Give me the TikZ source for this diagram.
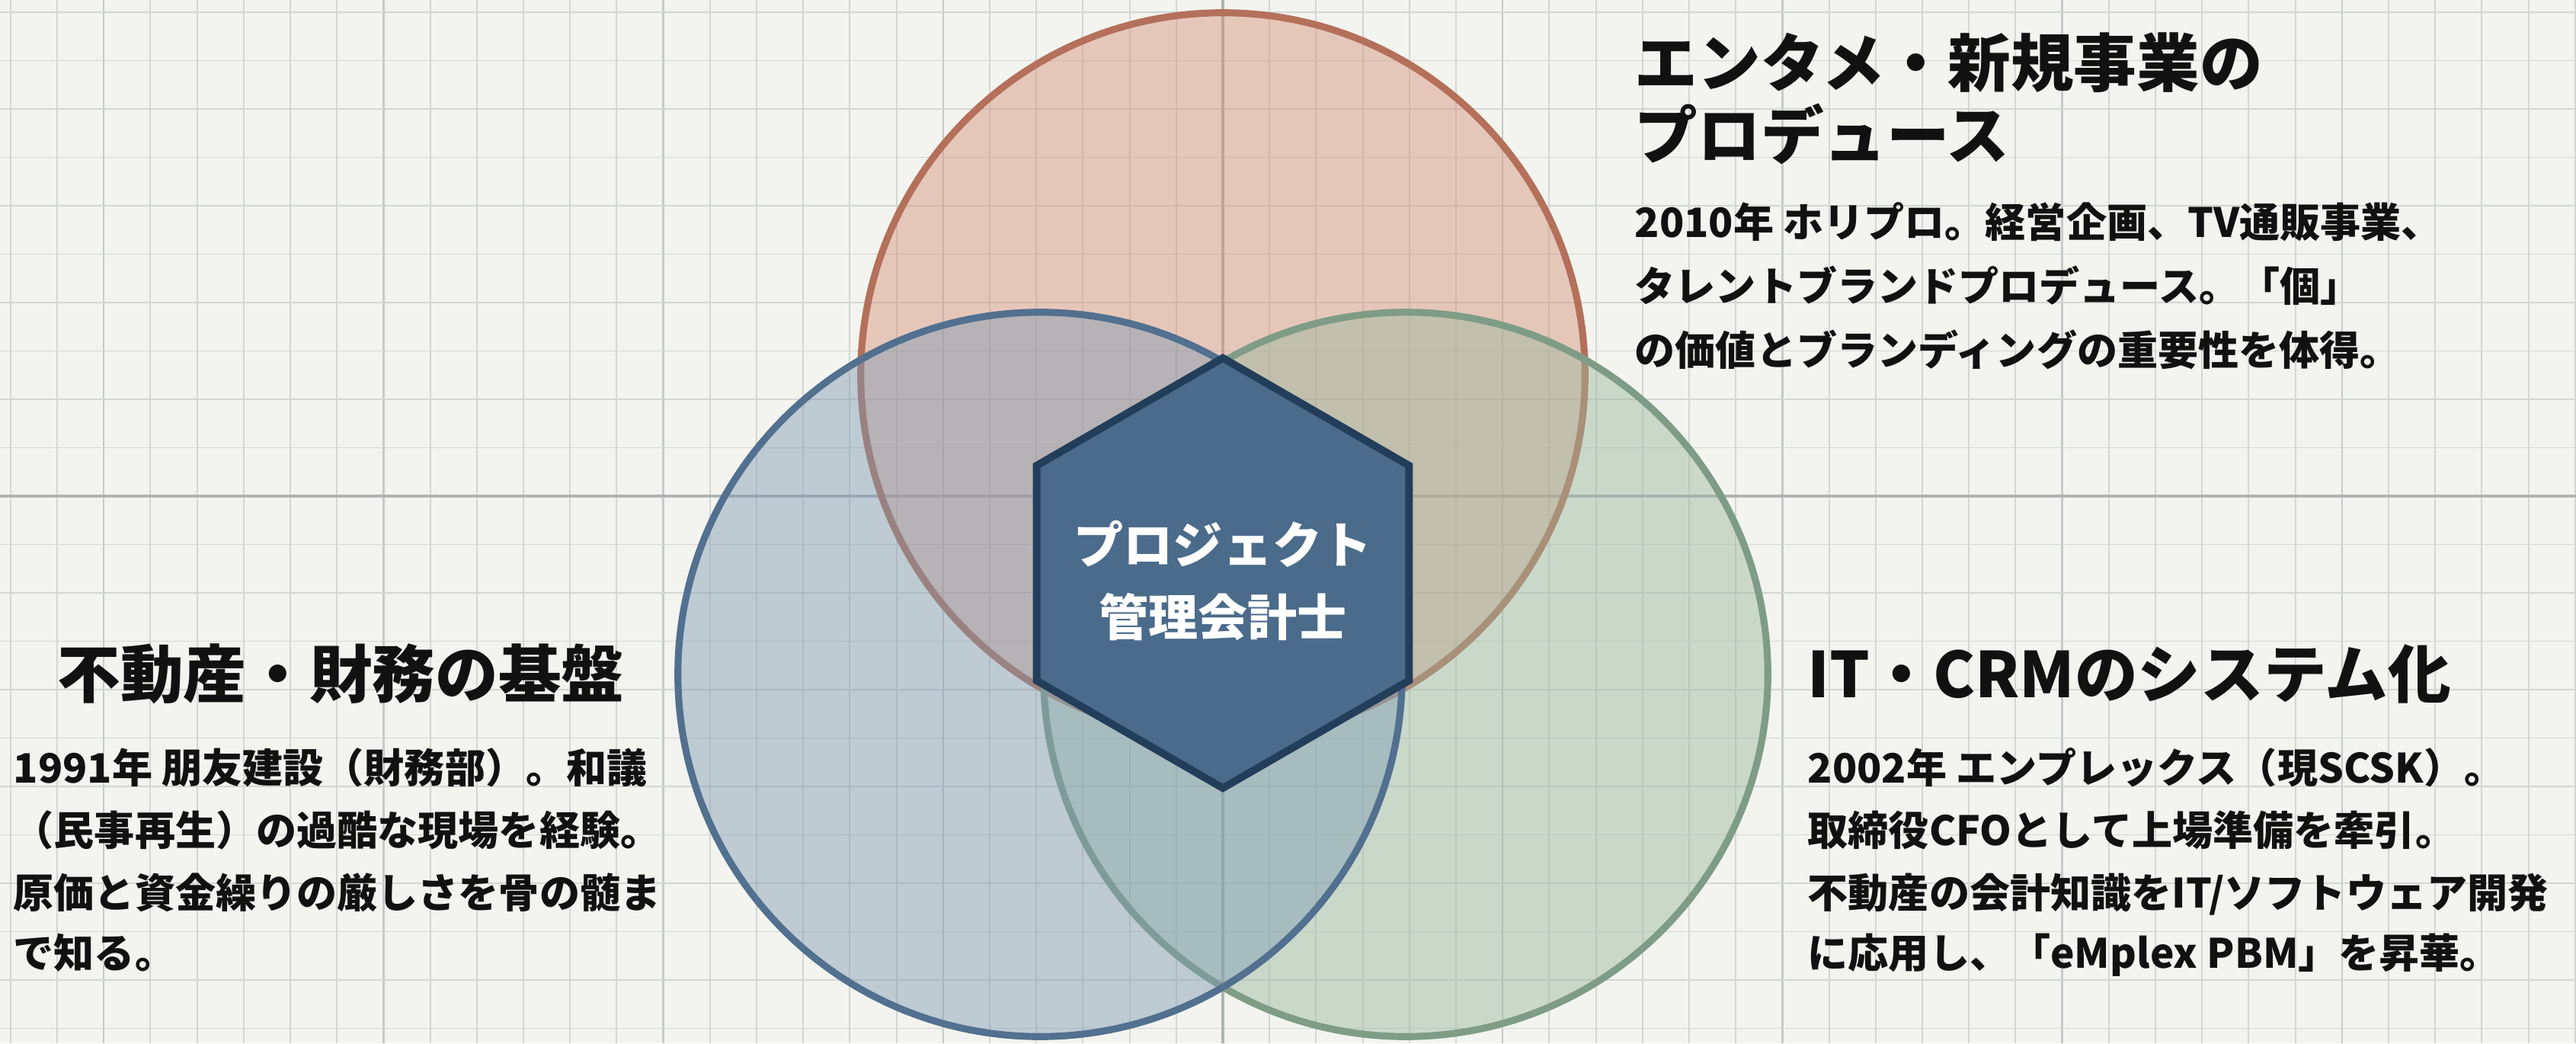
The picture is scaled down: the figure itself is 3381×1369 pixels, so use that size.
\documentclass[tikz,border=0pt]{standalone}
\usepackage{fontspec}
\setmainfont{Noto Sans CJK JP}
\usetikzlibrary{shapes.geometric}
\definecolor{bg}{HTML}{F3F4EF}
\definecolor{gridc}{HTML}{D3D6D3}
\definecolor{gridm}{HTML}{C6CACA}
\definecolor{axisc}{HTML}{AEB3B3}
\definecolor{redline}{HTML}{B4705A}
\definecolor{redfill}{HTML}{D4917A}
\definecolor{blueline}{HTML}{52708F}
\definecolor{bluefill}{HTML}{7E9AB3}
\definecolor{greenline}{HTML}{7E9C86}
\definecolor{greenfill}{HTML}{9AB79F}
\definecolor{hexfill}{HTML}{4B6B8B}
\definecolor{hexline}{HTML}{233E5B}
\definecolor{ink}{HTML}{111111}
\tikzset{
  gridline/.style={draw=gridc, line width=0.55pt},
  gridmajor/.style={draw=gridm, line width=0.65pt},
  axisline/.style={draw=axisc, line width=0.9pt},
  venn/.style={circle, minimum size=9.5cm, inner sep=0pt, line width=2.6pt, fill opacity=0.45},
  headtxt/.style={anchor=base west, inner sep=0pt, text=ink, font=\bfseries\fontsize{23.5pt}{27pt}\selectfont},
  bodytxt/.style={anchor=base west, inner sep=0pt, text=ink, font=\bfseries\fontsize{15.1pt}{18pt}\selectfont},
  hextxt/.style={inner sep=0pt, text=white, align=center, font=\bfseries\fontsize{18.5pt}{27pt}\selectfont}
}
\begin{document}
\begin{tikzpicture}[x=0.01cm,y=-0.01cm]
\fill[bg] (0,0) rectangle (3381,1369);
\useasboundingbox (0,0) rectangle (3381,1369);
\begin{scope}
\clip (0,0) rectangle (3381,1369);
\foreach \k in {-26,...,29} \draw[gridline] ({1605+61.2*\k},0) -- ({1605+61.2*\k},1369);
\foreach \k in {-24,-18,-12,-6,6,12,18,24} \draw[gridmajor] ({1605+61.2*\k},0) -- ({1605+61.2*\k},1369);
\foreach \k in {-10,...,11} \draw[gridline] (0,{651+63.5*\k}) -- (3381,{651+63.5*\k});
\draw[axisline] (1605,0) -- (1605,1369);
\draw[axisline] (0,651) -- (3381,651);
\end{scope}
% Venn circles
\node[venn, draw=redline, fill=redfill] (ent) at (1605,492) {};
\node[venn, draw=greenline, fill=greenfill] (itc) at (1845,885) {};
\node[venn, draw=blueline, fill=bluefill] (fin) at (1365,885) {};
% centre hexagon
\node[regular polygon, regular polygon sides=6, shape border rotate=30, minimum size=5.64cm, inner sep=0pt, fill=hexfill, draw=hexline, line width=2.8pt] (hex) at (1605,752) {};
\node[hextxt] (hexlabel) at (1605,762) {プロジェクト\\管理会計士};
% top right
\node[headtxt] (t1) at (2145,113) {エンタメ・新規事業の};
\node[headtxt] (t2) at (2145,208) {プロデュース};
\node[bodytxt] (t3) at (2145,311) {2010年 ホリプロ。経営企画、TV通販事業、};
\node[bodytxt] (t4) at (2145,395) {タレントブランドプロデュース。「個」};
\node[bodytxt] (t5) at (2145,479) {の価値とブランディングの重要性を体得。};
% left
\node[headtxt] (l1) at (75,915) {不動産・財務の基盤};
\node[bodytxt] (l2) at (17,1027) {1991年 朋友建設（財務部）。和議};
\node[bodytxt] (l3) at (17,1109) {（民事再生）の過酷な現場を経験。};
\node[bodytxt] (l4) at (17,1191) {原価と資金繰りの厳しさを骨の髄ま};
\node[bodytxt] (l5) at (17,1270) {で知る。};
% right
\node[headtxt] (r1) at (2372,915) {IT・CRMのシステム化};
\node[bodytxt] (r2) at (2372,1027) {2002年 エンプレックス（現SCSK）。};
\node[bodytxt] (r3) at (2372,1109) {取締役CFOとして上場準備を牽引。};
\node[bodytxt] (r4) at (2372,1191) {不動産の会計知識をIT/ソフトウェア開発};
\node[bodytxt] (r5) at (2372,1270) {に応用し、「eMplex PBM」を昇華。};
\end{tikzpicture}
\end{document}
